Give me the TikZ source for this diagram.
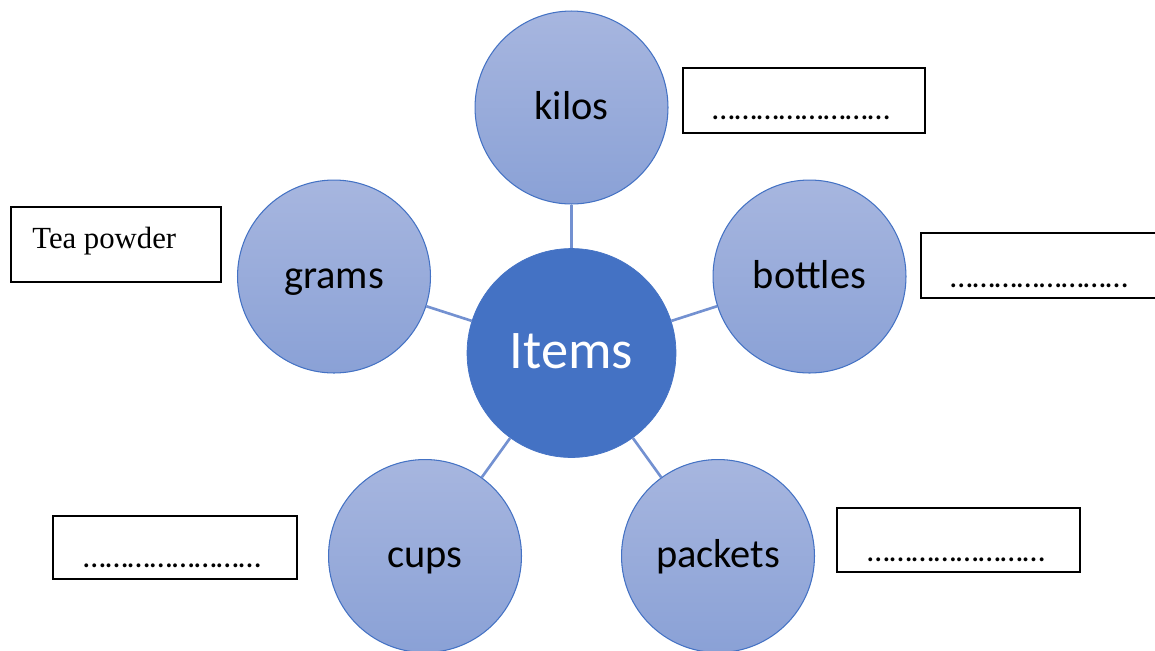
\documentclass[tikz,border=0pt]{standalone}
\usepackage{fontspec}
\usepackage{tikz}
\usetikzlibrary{positioning,calc}
\setmainfont{Carlito}
\newfontfamily\timesfont{Liberation Serif}
\definecolor{ink}     {HTML}{000000}
\definecolor{hub}     {HTML}{4472C4}
\definecolor{spoketop}{HTML}{A7B6DF}
\definecolor{spokebot}{HTML}{8AA1D6}
\definecolor{link}    {HTML}{7391D1}
\tikzset{
  every node/.style={inner sep=0pt},
  % --- nodes
  centre/.style = {circle, draw=hub, fill=hub, minimum size=4.18cm,
                   text=white, font=\fontsize{31}{36}\selectfont,
                   text height=21.7pt, text depth=3.6pt},
  unit/.style   = {circle, draw=hub, line width=0.6pt, minimum size=3.86cm,
                   top color=spoketop, bottom color=spokebot,
                   font=\fontsize{23}{28}\selectfont,
                   text height=16pt, text depth=2.4pt},
  blank/.style  = {draw=ink, line width=1.1pt, fill=white},
  given/.style  = {draw=ink, line width=0.6pt, fill=white},
  dots/.style   = {font=\fontsize{18.3}{20}\selectfont},
  serif/.style  = {font=\timesfont\fontsize{17.5}{20}\selectfont},
  % --- edges
  e/.style      = {draw=link, line width=1.5pt},
}
\begin{document}
\begin{tikzpicture}[x=0.02cm,y=-0.02cm]
  \useasboundingbox (0,0) rectangle (1155,650);
  \node[centre] (items) at (571.5,353) {Items};
  \node[unit] (kilos)   at (571.5,107.5) {kilos};
  \node[unit] (grams)   at (334,276.5)   {grams};
  \node[unit] (bottles) at (809.5,276.5) {bottles};
  \node[unit] (cups)    at (425,556)     {cups};
  \node[unit] (packets) at (718,556)     {packets};
  \draw[e] (items)--(kilos); \draw[e] (items)--(grams); \draw[e] (items)--(bottles);
  \draw[e] (items)--(cups); \draw[e] (items)--(packets);
  % answer boxes
  \draw[given] (11,207) rectangle (221,282) coordinate (teabox);
  \node[serif, anchor=base west] (tea) at (32,248) {Tea powder};
  \draw[blank] (683,68) rectangle (925,133) coordinate (kbox);
  \node[dots, anchor=base west] (kdots) at (712,119) {……………………};
  \draw[blank] (921,233) rectangle (1170,298) coordinate (bbox);
  \node[dots, anchor=base west] (bdots) at (950,287) {……………………};
  \draw[blank] (53,516) rectangle (297,579) coordinate (cbox);
  \node[dots, anchor=base west] (cdots) at (83,567) {……………………};
  \draw[blank] (837,508) rectangle (1080,572) coordinate (pbox);
  \node[dots, anchor=base west] (pdots) at (867,561) {……………………};
\end{tikzpicture}
\end{document}
